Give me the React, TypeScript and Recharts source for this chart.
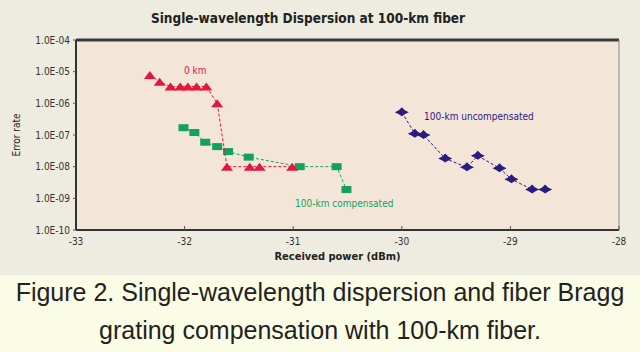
import { ScatterChart, Scatter, XAxis, YAxis, CartesianGrid, ReferenceLine } from 'recharts';

const powerTicks = [-33, -32, -31, -30, -29, -28];
const rateTicks = [1e-10, 1e-9, 1e-8, 1e-7, 1e-6, 1e-5, 1e-4];

// 0 km (red triangles)
const zeroKmPower = [-32.32, -32.23, -32.13, -32.04, -31.97, -31.89, -31.8, -31.7, -31.61, -31.4, -31.31, -31.01];
const zeroKmRate = [7.8e-6, 4.8e-6, 3.4e-6, 3.4e-6, 3.4e-6, 3.4e-6, 3.4e-6, 1e-6, 1e-8, 1e-8, 1e-8, 1e-8];

// 100 km compensated (green squares)
const compPower = [-32.01, -31.91, -31.81, -31.7, -31.6, -31.41, -30.94, -30.6, -30.51];
const compRate = [1.7e-7, 1.2e-7, 5.9e-8, 4.3e-8, 3.0e-8, 2.0e-8, 1e-8, 1e-8, 1.9e-9];

// 100 km uncompensated (blue stars)
const uncompPower = [-30.0, -29.88, -29.8, -29.6, -29.4, -29.3, -29.1, -28.99, -28.8, -28.68];
const uncompRate = [5.2e-7, 1.1e-7, 1e-7, 1.8e-8, 9.5e-9, 2.2e-8, 8.9e-9, 4.0e-9, 1.9e-9, 1.9e-9];

const zip = (xs: number[], ys: number[]) => xs.map((x, i) => ({ power: x, rate: ys[i] }));

const RED = '#e3173a';
const GREEN = '#12a25e';
const BLUE = '#2a1a82';
const FONT = '"DejaVu Sans Condensed", "DejaVu Sans", sans-serif';

const formatRate = (v: number) => {
  const e = -Math.round(Math.log10(v));
  return `1.0E-${String(e).padStart(2, '0')}`;
};

const Triangle = (p: any) => (
  <polygon points={`${p.cx - 6},${p.cy + 4} ${p.cx},${p.cy - 4} ${p.cx + 6},${p.cy + 4}`} fill={RED} />
);

const Square = (p: any) => <rect x={p.cx - 5} y={p.cy - 3.5} width={10} height={7} fill={GREEN} />;

const Star = (p: any) => {
  const { cx, cy } = p;
  const pts = [
    [cx - 7, cy], [cx - 3, cy - 2], [cx, cy - 5], [cx + 3, cy - 2],
    [cx + 7, cy], [cx + 3, cy + 2], [cx, cy + 4], [cx - 3, cy + 2],
  ].map((q) => q.join(',')).join(' ');
  return <polygon points={pts} fill={BLUE} />;
};

const tickStyle = { fontFamily: FONT, fontSize: 10, fill: '#333' };

export default function App() {
  return (
    <div style={{ position: 'absolute', left: 0, top: 0, width: 640, height: 352, background: '#fbfce6' }}>
      <div style={{ position: 'absolute', left: 0, top: 0, width: 640, height: 275, background: '#eeebe0' }} />
      <div
        style={{
          position: 'absolute', left: 0, top: 10, width: 616, textAlign: 'center',
          fontFamily: FONT, fontWeight: 'bold', fontSize: 13.5, color: '#222',
        }}
      >
        Single-wavelength Dispersion at 100-km fiber
      </div>
      <div style={{ position: 'absolute', left: 0, top: 0 }}>
        <ScatterChart width={640} height={275} margin={{ top: 40, right: 21, left: 0, bottom: 15 }}>
          <CartesianGrid horizontal={false} vertical={false} fill="#f3e6d9" />
          <XAxis
            type="number"
            dataKey="power"
            domain={[-33, -28]}
            ticks={powerTicks}
            tick={tickStyle}
            tickSize={-4}
            tickMargin={12}
            axisLine={{ stroke: '#333', strokeWidth: 2 }}
            tickLine={{ stroke: '#555' }}
            height={30}
            label={{ value: 'Received power (dBm)', position: 'insideBottom', offset: 0, dx: -10, style: { fontFamily: FONT, fontSize: 11, fontWeight: 'bold', fill: '#222' } }}
          />
          <YAxis
            type="number"
            dataKey="rate"
            scale="log"
            domain={[1e-10, 1e-4]}
            allowDataOverflow
            ticks={rateTicks}
            tickFormatter={formatRate}
            tick={tickStyle}
            tickSize={3}
            tickMargin={3}
            axisLine={{ stroke: '#333', strokeWidth: 2 }}
            tickLine={{ stroke: '#555' }}
            width={76}
            label={{ value: 'Error rate', angle: -90, position: 'insideLeft', offset: 16, style: { fontFamily: FONT, fontSize: 10, fill: '#222', textAnchor: 'middle' } }}
          />
          <ReferenceLine y={1e-4} stroke="#3a3a3a" strokeWidth={3} />
          <ReferenceLine x={-28} stroke="#888" strokeWidth={1} />
          <Scatter
            data={zip(compPower, compRate)}
            shape={Square}
            line={{ stroke: GREEN, strokeWidth: 1, strokeDasharray: '3 2' }}
            isAnimationActive={false}
          />
          <Scatter
            data={zip(zeroKmPower, zeroKmRate)}
            shape={Triangle}
            line={{ stroke: RED, strokeWidth: 1, strokeDasharray: '3 2' }}
            isAnimationActive={false}
          />
          <Scatter
            data={zip(uncompPower, uncompRate)}
            shape={Star}
            line={{ stroke: BLUE, strokeWidth: 1, strokeDasharray: '3 2' }}
            isAnimationActive={false}
          />
        </ScatterChart>
      </div>
      <div style={{ position: 'absolute', left: 184, top: 65, fontFamily: FONT, fontSize: 10, color: RED }}>0 km</div>
      <div style={{ position: 'absolute', left: 424, top: 111, fontFamily: FONT, fontSize: 10, color: BLUE }}>
        100-km uncompensated
      </div>
      <div style={{ position: 'absolute', left: 295, top: 198, fontFamily: FONT, fontSize: 10, color: GREEN }}>
        100-km compensated
      </div>
      <div
        style={{
          position: 'absolute', left: 0, top: 273, width: 640, textAlign: 'center',
          fontFamily: '"Liberation Sans", Arial, sans-serif', fontSize: 25, lineHeight: '38px', color: '#222',
        }}
      >
        Figure 2. Single-wavelength dispersion and fiber Bragg
        <br />
        grating compensation with 100-km fiber.
      </div>
    </div>
  );
}
